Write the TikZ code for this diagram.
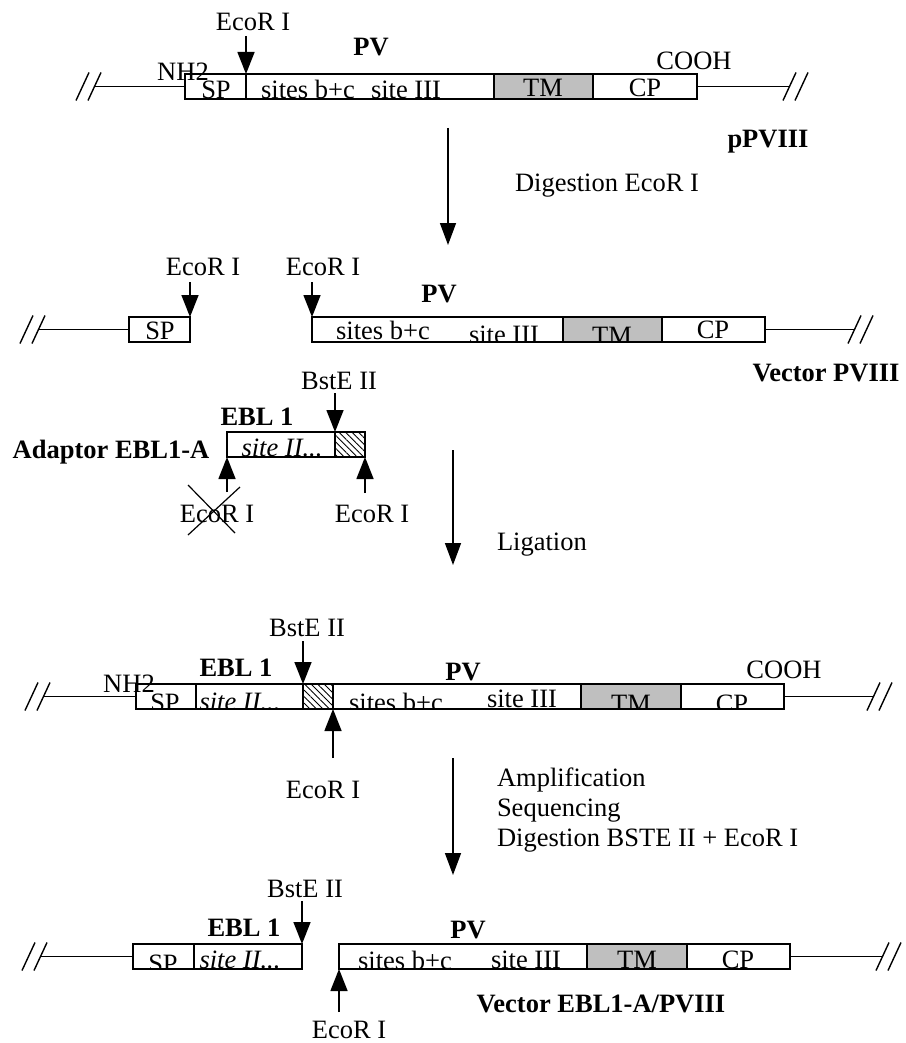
\documentclass[tikz,border=0pt]{standalone}
\usepackage{fontspec}
\setmainfont{Liberation Serif}
\usetikzlibrary{arrows.meta,patterns.meta,calc}

% one box of a construct: name, left x, right x, top y, extra style
\newcommand\dnaseg[5]{\node[seg,minimum width={(#3-#2)*1pt},#5] (#1) at (#2,#4) {};}

\begin{document}
\begin{tikzpicture}[x=1pt,y=-1pt,
  font=\fontsize{26.5}{30}\selectfont,
  every node/.style={inner sep=0pt,outer sep=0pt},
  seg/.style={draw,line width=1.5pt,minimum height=25pt,anchor=north west,fill=white},
  tmseg/.style={fill=black!25},
  hatch/.style={pattern={Lines[angle=-45,distance=4.6pt,line width=0.9pt]}},
  strand/.style={line width=1.4pt},
  cut/.style={line width=1.5pt,-{Triangle[width=17pt,length=22pt]}},
  flow/.style={line width=1.5pt,-{Triangle[width=16pt,length=22pt]}},
  txt/.style={anchor=base},
  bold/.style={anchor=base,font=\fontsize{26.5}{30}\selectfont\bfseries},
  ital/.style={anchor=base,font=\fontsize{26.5}{30}\selectfont\itshape},
  proc/.style={anchor=base west},
  brk/.pic={\draw[line width=1.4pt] (-12,14)--(1,-14) (0,14)--(13,-14);}
]
\useasboundingbox (0,0) rectangle (905,1043);

%% ---------------- pPVIII ----------------
\dnaseg{sp1}{185}{246}{74}{}
\dnaseg{sb1}{246}{494}{74}{}
\dnaseg{tm1}{494}{593}{74}{tmseg}
\dnaseg{cp1}{593}{697}{74}{}
\pic at (88,86.5) {brk};
\pic at (795,86.5) {brk};
\coordinate (l1) at (95,86.5);
\coordinate (r1) at (789,86.5);
\draw[strand] (l1) -- (sp1.west);
\draw[strand] (cp1.east) -- (r1);
\begin{scope}
  \clip (sp1.north west) rectangle (cp1.south east);
  \node[txt] (t1sp) at (216,99) {SP};
  \node[txt] (t1sb) at (308,99) {sites b+c};
  \node[txt] (t1s3) at (406,99) {site III};
  \node[txt] (t1tm) at (543,97) {TM};
  \node[txt] (t1cp) at (645,97) {CP};
\end{scope}
\node[txt] (nh1) at (183,81) {NH2};
\node[txt] (cooh1) at (694,70) {COOH};
\node[bold] (pv1) at (371,56) {PV};
\node[txt] (eco1) at (253,31) {EcoR I};
\coordinate (eco1t) at (246,36);
\draw[cut] (eco1t) -- (sp1.north east);
\node[bold] (name1) at (768,148) {pPVIII};

\coordinate (f1a) at (448,128);
\coordinate (f1b) at (448,245);
\draw[flow] (f1a) -- (f1b);
\node[proc] (step1) at (515,192) {Digestion EcoR I};

%% ---------------- Vector PVIII ----------------
\dnaseg{sp2}{129}{190}{317}{}
\dnaseg{sb2}{312}{563}{317}{}
\dnaseg{tm2}{563}{662}{317}{tmseg}
\dnaseg{cp2}{662}{765}{317}{}
\pic at (32,329.5) {brk};
\pic at (860,329.5) {brk};
\coordinate (l2) at (39,329.5);
\coordinate (r2) at (854,329.5);
\draw[strand] (l2) -- (sp2.west);
\draw[strand] (cp2.east) -- (r2);
\begin{scope}
  \clip (sp2.north west) rectangle (sp2.south east);
  \node[txt] (t2sp) at (160,339) {SP};
\end{scope}
\begin{scope}
  \clip (sb2.north west) rectangle (cp2.south east);
  \node[txt] (t2sb) at (383,339) {sites b+c};
  \node[txt] (t2s3) at (504,343) {site III};
  \node[txt] (t2tm) at (612,344) {TM};
  \node[txt] (t2cp) at (713,338) {CP};
\end{scope}
\node[txt] (eco2a) at (203,275) {EcoR I};
\node[txt] (eco2b) at (323,275) {EcoR I};
\coordinate (eco2at) at (190,282);
\coordinate (eco2bt) at (312,282);
\draw[cut] (eco2at) -- (sp2.north east);
\draw[cut] (eco2bt) -- (sb2.north west);
\node[bold] (pv2) at (439,302) {PV};
\node[bold] (name2) at (826,381) {Vector PVIII};

%% ---------------- Adaptor EBL1-A ----------------
\dnaseg{ad3}{227}{335}{432}{}
\dnaseg{ha3}{335}{365}{432}{hatch}
\node[ital] (t3si) at (282,456) {site II...};
\node[bold] (ebl3) at (257,425) {EBL 1};
\node[bold] (name3) at (111,458) {Adaptor EBL1-A};
\node[txt] (bst3) at (339,389) {BstE II};
\coordinate (bst3t) at (335,393);
\draw[cut] (bst3t) -- (ha3.north west);
\coordinate (eco3at) at (227,492);
\coordinate (eco3bt) at (365,493);
\draw[cut] (eco3at) -- (ad3.south west);
\draw[cut] (eco3bt) -- (ha3.south east);
\node[txt] (eco3a) at (217,522) {EcoR I};
\node[txt] (eco3b) at (372,522) {EcoR I};
% the lost EcoR I site is struck out
\draw[line width=1.2pt] (188,485) -- (235,533) (240,487) -- (188,535);

\coordinate (f2a) at (453,450);
\coordinate (f2b) at (453,565);
\draw[flow] (f2a) -- (f2b);
\node[proc] (step2) at (497,550) {Ligation};

%% ---------------- ligation product ----------------
\dnaseg{sp4}{136}{196}{684}{}
\dnaseg{si4}{196}{303}{684}{}
\dnaseg{ha4}{303}{333}{684}{hatch}
\dnaseg{sb4}{333}{581}{684}{}
\dnaseg{tm4}{581}{681}{684}{tmseg}
\dnaseg{cp4}{681}{784}{684}{}
\pic at (37,696.5) {brk};
\pic at (879,696.5) {brk};
\coordinate (l4) at (44,696.5);
\coordinate (r4) at (873,696.5);
\draw[strand] (l4) -- (sp4.west);
\draw[strand] (cp4.east) -- (r4);
\begin{scope}
  \clip (sp4.north west) rectangle (cp4.south east);
  \node[txt] (t4sp) at (165,711) {SP};
  \node[ital] (t4si) at (240,710) {site II...};
  \node[txt] (t4sb) at (396,711) {sites b+c};
  \node[txt] (t4s3) at (522,707) {site III};
  \node[txt] (t4tm) at (631,712) {TM};
  \node[txt] (t4cp) at (732,712) {CP};
\end{scope}
\node[txt] (nh4) at (129,692) {NH2};
\node[bold] (ebl4) at (236,676) {EBL 1};
\node[bold] (pv4) at (463,680) {PV};
\node[txt] (cooh4) at (784,678) {COOH};
\node[txt] (bst4) at (307,636) {BstE II};
\coordinate (bst4t) at (303,641);
\draw[cut] (bst4t) -- (ha4.north west);
\coordinate (eco4t) at (333,758);
\draw[cut] (eco4t) -- (ha4.south east);
\node[txt] (eco4) at (323,798) {EcoR I};

\coordinate (f3a) at (453,758);
\coordinate (f3b) at (453,875);
\draw[flow] (f3a) -- (f3b);
\node[proc] (step3a) at (497,786) {Amplification};
\node[proc] (step3b) at (497,816) {Sequencing};
\node[proc] (step3c) at (497,846) {Digestion BSTE II + EcoR I};

%% ---------------- Vector EBL1-A/PVIII ----------------
\dnaseg{sp5}{133}{194}{944}{}
\dnaseg{si5}{194}{302}{944}{}
\dnaseg{sb5}{339}{587}{944}{}
\dnaseg{tm5}{587}{687}{944}{tmseg}
\dnaseg{cp5}{687}{790}{944}{}
\pic at (34,956.5) {brk};
\pic at (888,956.5) {brk};
\coordinate (l5) at (41,956.5);
\coordinate (r5) at (882,956.5);
\draw[strand] (l5) -- (sp5.west);
\draw[strand] (cp5.east) -- (r5);
\begin{scope}
  \clip (sp5.north west) rectangle (si5.south east);
  \node[txt] (t5sp) at (163,972) {SP};
  \node[ital] (t5si) at (240,968) {site II...};
\end{scope}
\begin{scope}
  \clip (sb5.north west) rectangle (cp5.south east);
  \node[txt] (t5sb) at (405,969) {sites b+c};
  \node[txt] (t5s3) at (526,968) {site III};
  \node[txt] (t5tm) at (637,968) {TM};
  \node[txt] (t5cp) at (738,968) {CP};
\end{scope}
\node[bold] (ebl5) at (244,936) {EBL 1};
\node[bold] (pv5) at (468,938) {PV};
\node[txt] (bst5) at (305,897) {BstE II};
\coordinate (bst5t) at (302,901);
\draw[cut] (bst5t) -- (si5.north east);
\coordinate (eco5t) at (339,1012);
\draw[cut] (eco5t) -- (sb5.south west);
\node[txt] (eco5) at (349,1038) {EcoR I};
\node[bold] (name5) at (601,1012) {Vector EBL1-A/PVIII};
\end{tikzpicture}
\end{document}
